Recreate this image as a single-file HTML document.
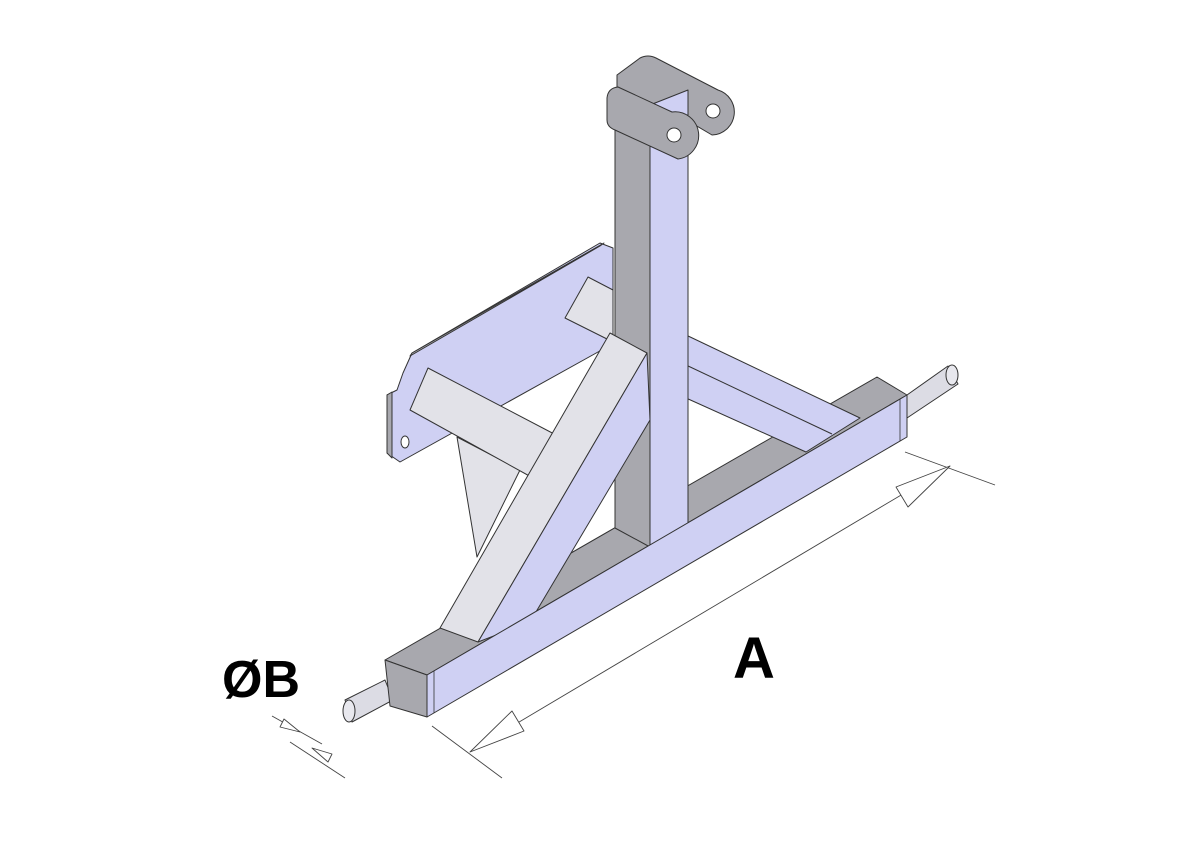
<!DOCTYPE html>
<html><head><style>
html,body{margin:0;padding:0;background:#fff;}
svg{display:block;}
text{font-family:"Liberation Sans",sans-serif;font-weight:bold;}
</style></head><body>
<svg width="1200" height="848" viewBox="0 0 1200 848" xmlns="http://www.w3.org/2000/svg" stroke="#333" stroke-width="1" stroke-linejoin="round">
<!-- back plate -->
<polygon points="387,395 397,390 403,373 412,353 600,243 613,248 613,335 607,347 400,462 387,453" fill="#cfd0f3"/>
<polygon points="387,395 392,392 392,458 387,453" fill="#a8a8ae"/>
<polygon points="410,356 600,246 604,243 412,353" fill="#a8a8ae"/>
<ellipse cx="405" cy="442" rx="4" ry="6" fill="#fff"/>
<!-- gusset under left arm -->
<polygon points="457,437 477,557 520,470" fill="#e2e2e8"/>
<!-- left arm (plate) -->
<polygon points="428,368 558,436 533,478 410,410" fill="#e2e2e8"/>
<!-- upper brace stub behind post -->
<polygon points="588,277 613,290 613,342 565,318" fill="#e2e2e8"/>
<!-- main beam top face (gray) -->
<polygon points="385,660 877,377 907,395 427,675" fill="#a8a8ae"/>
<!-- rear arm (to the right) -->
<polygon points="686,335 860,418 806,452 686,398" fill="#cfd0f3"/>
<line x1="686" y1="365" x2="832" y2="434"/>
<!-- vertical post -->
<polygon points="615,90 650,105 650,547 615,528" fill="#a8a8ae"/>
<polygon points="650,105 688,90 688,526 650,547" fill="#cfd0f3"/>
<!-- top plates -->
<path d="M617,75 L640,58 Q648,54 656,58 L718,90 A23,23 0 0 1 712,135 L690,122 L660,108 L617,98 Z" fill="#a8a8ae"/>
<polygon points="650,105 688,90 688,115 655,125" fill="#cfd0f3"/>
<circle cx="713" cy="111" r="7" fill="#fff"/>
<path d="M607,98 Q608,88 618,87 L672,112 A23,23 0 0 1 678,159 L615,130 Q607,127 607,120 Z" fill="#a8a8ae"/>
<circle cx="674" cy="135" r="7" fill="#fff"/>
<!-- diagonal brace -->
<polygon points="440,628 610,333 647,353 478,642" fill="#e2e2e8"/>
<polygon points="478,642 647,353 650,420 530,622" fill="#cfd0f3"/>
<!-- main beam front face -->
<polygon points="427,675 907,395 907,437 427,717" fill="#cfd0f3"/>
<line x1="900" y1="399" x2="900" y2="441" stroke-width="0.8"/>
<line x1="434" y1="671" x2="434" y2="713" stroke-width="0.8"/>
<!-- pins -->
<polygon points="345,700 385,680 393,700 352,722" fill="#dcdce4"/>
<ellipse cx="349" cy="711" rx="6" ry="11" fill="#e8e8ee"/>
<polygon points="907,395 948,366 958,384 907,418" fill="#dcdce4"/>
<ellipse cx="952" cy="375" rx="6" ry="10" fill="#e8e8ee"/>
<!-- left end face -->
<polygon points="385,660 427,675 427,717 390,706" fill="#a8a8ae"/>
<!-- dimension A -->
<g stroke="#444" fill="none" stroke-width="0.9">
<line x1="472" y1="750" x2="950" y2="466"/>
<line x1="432" y1="726" x2="502" y2="778"/>
<line x1="905" y1="452" x2="995" y2="485"/>
<polygon points="470,752 524,731 512,711" fill="#fff"/>
<polygon points="950,466 896,487 908,507" fill="#fff"/>
<line x1="272" y1="716" x2="322" y2="744"/>
<line x1="290" y1="742" x2="345" y2="778"/>
<polygon points="300,732 280,727 284,719" fill="#fff"/>
<polygon points="312,748 332,754 328,762" fill="#fff"/>
</g>
<text x="733" y="678" font-size="58" fill="#000" stroke="none">A</text>
<text x="222" y="697" font-size="52" fill="#000" stroke="none">ØB</text>
</svg>
</body></html>
